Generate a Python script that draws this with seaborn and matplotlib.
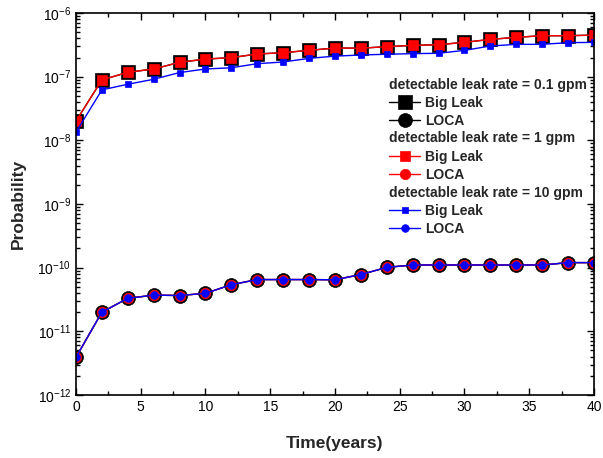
import numpy as np
import pandas as pd
import matplotlib
matplotlib.use("Agg")
import matplotlib.pyplot as plt
import seaborn as sns
from matplotlib.ticker import LogLocator, MultipleLocator, NullFormatter

# Veriler
years = [0, 2, 4, 6, 8, 10, 12, 14, 16, 18, 20, 22, 24, 26, 28, 30, 32, 34, 36, 38, 40]
big_leak_01 = [2.0e-8, 8.9e-8, 1.17e-7, 1.32e-7, 1.68e-7, 1.89e-7, 1.99e-7, 2.27e-7, 2.38e-7, 2.59e-7, 2.82e-7,
               2.80e-7, 2.96e-7, 3.10e-7, 3.18e-7, 3.46e-7, 3.85e-7, 4.15e-7, 4.40e-7, 4.40e-7, 4.50e-7]
big_leak_1 = [2.0e-8, 8.9e-8, 1.17e-7, 1.32e-7, 1.68e-7, 1.89e-7, 1.99e-7, 2.27e-7, 2.38e-7, 2.59e-7, 2.82e-7,
              2.80e-7, 2.96e-7, 3.10e-7, 3.18e-7, 3.46e-7, 3.85e-7, 4.15e-7, 4.40e-7, 4.40e-7, 4.50e-7]
big_leak_10 = [1.34e-8, 6.2e-8, 7.6e-8, 9.1e-8, 1.16e-7, 1.32e-7, 1.38e-7, 1.60e-7, 1.70e-7, 1.94e-7, 2.10e-7,
               2.19e-7, 2.25e-7, 2.30e-7, 2.33e-7, 2.59e-7, 3.03e-7, 3.22e-7, 3.22e-7, 3.42e-7, 3.46e-7]
loca_01 = [3.9e-12, 2.0e-11, 3.3e-11, 3.7e-11, 3.65e-11, 3.95e-11, 5.4e-11, 6.5e-11, 6.5e-11, 6.5e-11, 6.45e-11,
           7.8e-11, 1.01e-10, 1.1e-10, 1.1e-10, 1.1e-10, 1.1e-10, 1.1e-10, 1.1e-10, 1.2e-10, 1.2e-10]
loca_1 = list(loca_01)
loca_10 = list(loca_01)

rates = ["0.1", "1", "10"]

sns.set_style("ticks")
plt.rcParams["font.family"] = ["Liberation Sans", "DejaVu Sans"]
plt.rcParams["xtick.direction"] = "in"
plt.rcParams["ytick.direction"] = "in"

fig = plt.figure(figsize=(6.03, 4.58), dpi=100)
ax = fig.add_axes([0.126, 0.1376, 0.859, 0.834])

# (veri, marker, boyut, renk)
series = [
    (big_leak_01, "s", 9.5, "black"),
    (loca_01, "o", 10, "black"),
    (big_leak_1, "s", 7, "red"),
    (loca_1, "o", 7.5, "red"),
    (big_leak_10, "s", 5, "blue"),
    (loca_10, "o", 5.5, "blue"),
]
handles = []
for vals, mk, ms, c in series:
    sns.lineplot(x=years, y=vals, marker=mk, markersize=ms, color=c, mec=c, mew=0.5, lw=1.0, ax=ax)
    handles.append(ax.lines[-1])

ax.set_yscale("log")
ax.set_xlim(0, 40)
ax.set_ylim(1e-12, 1e-6)
ax.xaxis.set_major_locator(MultipleLocator(5))
ax.xaxis.set_minor_locator(MultipleLocator(2.5))
ax.yaxis.set_major_locator(LogLocator(base=10, numticks=10))
ax.yaxis.set_minor_locator(LogLocator(base=10, subs=np.arange(2, 10), numticks=20))
ax.yaxis.set_minor_formatter(NullFormatter())
ax.tick_params(which="both", top=True, right=True, labelsize=10, width=1, colors="black")
ax.tick_params(which="major", length=5)
ax.tick_params(which="minor", length=3)
for s in ax.spines.values():
    s.set_linewidth(1.2)
    s.set_color("black")

ax.set_xlabel("Time(years)", fontsize=12.5, fontweight="bold", labelpad=16)
ax.set_ylabel("Probability", fontsize=12.5, fontweight="bold", labelpad=8)

if ax.get_legend() is not None:
    ax.get_legend().remove()

# Her kacak orani icin ayri baslikli lejant
tops = [0.83, 0.69, 0.548]
legs = []
for i, r in enumerate(rates):
    leg = ax.legend(handles[2 * i:2 * i + 2], ["Big Leak", "LOCA"],
                    title="detectable leak rate = " + r + " gpm",
                    loc="upper left", bbox_to_anchor=(0.605, tops[i]),
                    frameon=False, alignment="left",
                    prop={"weight": "bold", "size": 10},
                    title_fontproperties={"weight": "bold", "size": 10},
                    handlelength=2.2, handletextpad=0.35, labelspacing=0.3,
                    borderpad=0, borderaxespad=0)
    legs.append(leg)
for leg in legs[:-1]:
    ax.add_artist(leg)

fig.savefig("out.png", dpi=100)
